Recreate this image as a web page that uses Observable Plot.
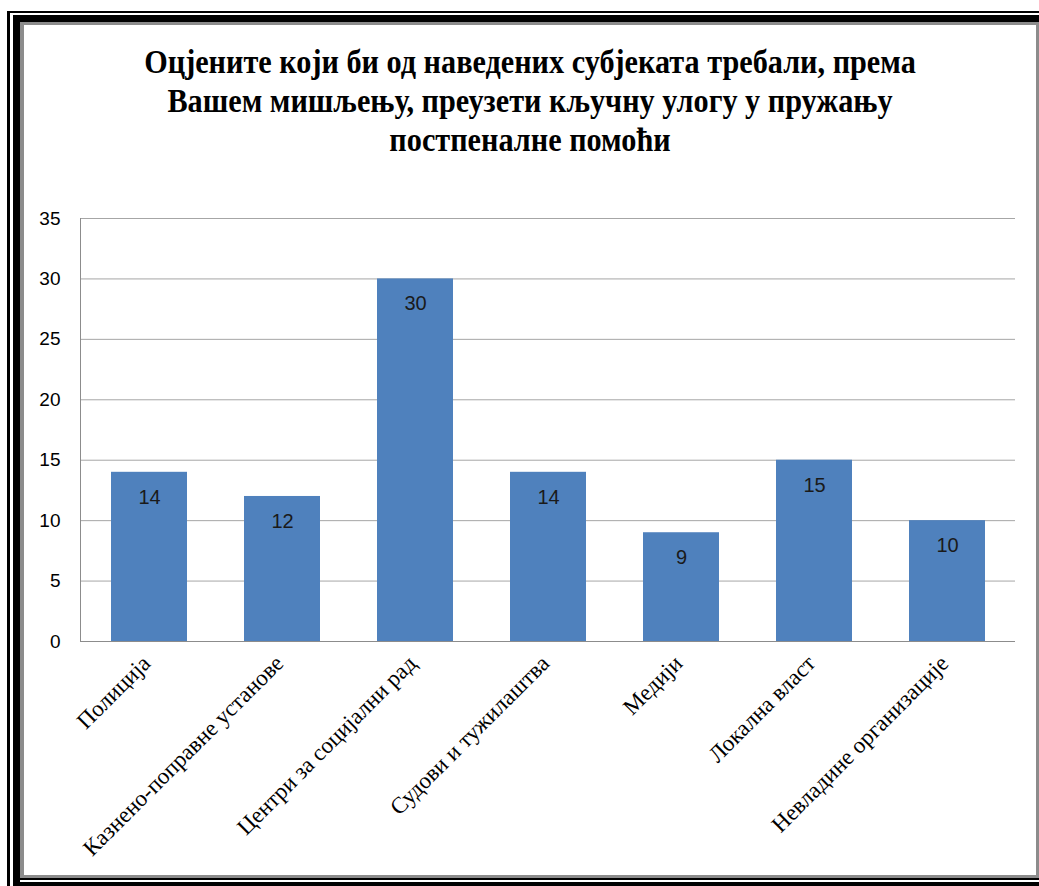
<!DOCTYPE html>
<html>
<head>
<meta charset="utf-8">
<script src="https://cdn.jsdelivr.net/npm/d3@7"></script>
<script src="https://cdn.jsdelivr.net/npm/@observablehq/plot@0.6"></script>
<style>
  html, body { margin: 0; padding: 0; background: #fff; }
  #page { position: relative; width: 1039px; height: 886px; overflow: hidden; background: #fff; }
  .bk { position: absolute; background: #000; }
  .gr { position: absolute; background: #8c8c8c; }
  #title { position: absolute; left: 24px; width: 1012px; top: 43px; text-align: center;
           font-family: "Liberation Serif", "Times New Roman", serif; font-weight: bold;
           font-size: 33px; line-height: 39px; color: #000; }
  #title div { white-space: nowrap; transform: scaleX(0.916); transform-origin: 50% 50%; }
  #chart { position: absolute; left: 0; top: 180px; }
  #chart svg { overflow: visible; }
  g[aria-label="x-axis tick label"] text { font-family: "Liberation Serif", "Times New Roman", serif; }
  g[aria-label="y-axis tick label"] text { font-family: "Liberation Sans", Arial, sans-serif; }
</style>
</head>
<body>
<div id="page">
  <div class="bk" style="left:7px;top:11px;width:3px;height:875px"></div>
  <div class="bk" style="left:7px;top:11px;width:1032px;height:2px"></div>
  <div class="bk" style="left:13px;top:15px;width:7px;height:871px"></div>
  <div class="bk" style="left:13px;top:15px;width:1026px;height:7px"></div>
  <div class="gr" style="left:20px;top:22px;width:4px;height:856px"></div>
  <div class="gr" style="left:20px;top:22px;width:1019px;height:3px"></div>
  <div class="gr" style="left:20px;top:875px;width:1019px;height:3px"></div>
  <div class="gr" style="left:1036px;top:22px;width:3px;height:856px"></div>
  <div class="bk" style="left:20px;top:878px;width:1019px;height:2px"></div>
  <div class="bk" style="left:20px;top:882px;width:1019px;height:4px"></div>
  <div id="title"></div>
  <div id="chart"></div>
</div>
<script>
const titleLines = [
  "Оцјените који би од наведених субјеката требали, према",
  "Вашем мишљењу, преузети кључну улогу у пружању",
  "постпеналне помоћи"
];
const categories = [
  "Полиција",
  "Казнено-поправне установе",
  "Центри за социјални рад",
  "Судови и тужилаштва",
  "Медији",
  "Локална власт",
  "Невладине организације"
];
const values = [14, 12, 30, 14, 9, 15, 10];
const yTicks = [0, 5, 10, 15, 20, 25, 30, 35];

const titleEl = document.getElementById("title");
for (const line of titleLines) {
  const d = document.createElement("div");
  d.textContent = line;
  titleEl.appendChild(d);
}

const data = categories.map((c, i) => ({category: c, value: values[i]}));

const chart = Plot.plot({
  width: 1039,
  height: 700,
  marginTop: 38,
  marginBottom: 239,
  marginLeft: 80,
  marginRight: 24,
  style: {background: "transparent", color: "#000"},
  x: {domain: categories, paddingInner: 0.43, paddingOuter: 0.215, label: null},
  y: {domain: [0, 35], ticks: yTicks, label: null},
  marks: [
    Plot.gridY(yTicks, {stroke: "#a6a6a6", strokeOpacity: 1}),
    Plot.frame({anchor: "left", stroke: "#8c8c8c"}),
    Plot.barY(data, {x: "category", y: "value", fill: "#4F81BD"}),
    Plot.ruleY([0], {stroke: "#8c8c8c"}),
    Plot.text(data, {x: "category", y: "value", text: d => String(d.value), dy: 25,
      fontSize: 20, fill: "#1a1a1a", fontFamily: "Liberation Sans, Arial, sans-serif"}),
    Plot.axisY({ticks: yTicks, tickSize: 0, tickPadding: 20, fontSize: 19, label: null}),
    Plot.axisX({tickSize: 0, tickRotate: -45, tickPadding: 18, dx: -3, fontSize: 23, label: null})
  ]
});
document.getElementById("chart").appendChild(chart);
</script>
</body>
</html>
